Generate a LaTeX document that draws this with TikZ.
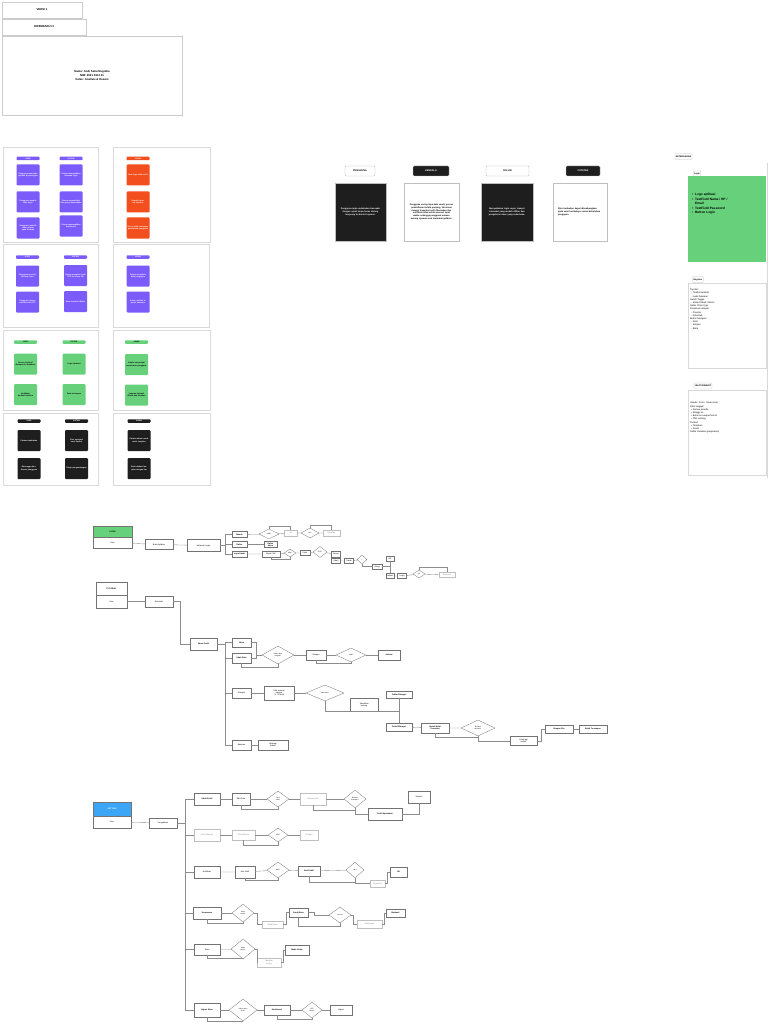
\documentclass[tikz,border=0pt]{standalone}
\usepackage{fontspec}
\setmainfont{Liberation Sans}
\usetikzlibrary{shapes.geometric}
\definecolor{ungu}{HTML}{7B5CFA}
\definecolor{merah}{HTML}{F24E1E}
\definecolor{hijau}{HTML}{66D17A}
\definecolor{hitam}{HTML}{1E1E1E}
\definecolor{biru}{HTML}{3DA5F5}
\newcommand{\fonttab}{\fontsize{1.8}{2}\selectfont\bfseries}
\newcommand{\fontcard}{\fontsize{1.9}{2.3}\selectfont\bfseries}
\newcommand{\fontflow}{\fontsize{2}{2.4}\selectfont}
\begin{document}
\begin{tikzpicture}[x=1pt, y=-1pt,
    wh/.style 2 args={minimum width=#1, minimum height=#2},
    panel/.style={draw=black!15, line width=0.4pt},
    topbox/.style={rectangle, draw=black!20, line width=0.4pt, inner sep=0.5pt, align=center, font=\fontsize{2.8}{3.6}\selectfont\bfseries},
    stickytab/.style={rectangle, rounded corners=0.8pt, inner sep=0pt, minimum width=23, minimum height=3.5, font=\fonttab, text=white},
    card/.style={rectangle, rounded corners=1pt, inner sep=0.6pt, minimum width=23, minimum height=21, text width=21, align=center, font=\fontcard, text=white},
    midtab/.style={rectangle, rounded corners=1pt, draw=black!25, line width=0.4pt, minimum height=10, inner sep=0pt, font=\fontsize{2.4}{3}\selectfont\bfseries},
    midcard/.style={rectangle, draw=black!25, line width=0.4pt, minimum height=58, inner sep=2pt, text width=44, align=center, font=\fontsize{2.2}{2.8}\selectfont\bfseries},
    sidetab/.style={rectangle, rounded corners=0.8pt, draw=black!25, line width=0.3pt, minimum height=6, inner sep=0.8pt, font=\fontsize{2.2}{2.6}\selectfont\bfseries},
    sidebox/.style={rectangle, draw=black!15, line width=0.4pt, minimum width=78, minimum height=85, inner sep=0pt},
    sidetext/.style={anchor=north west, align=left, inner sep=0pt, font=\fontsize{2.3}{3.2}\selectfont},
    fb/.style={rectangle, draw=black!55, line width=0.3pt, inner sep=0.3pt, align=center, font=\fontflow},
    fbb/.style={fb, font=\fontflow\bfseries},
    fl/.style={fb, draw=black!25, text=black!45},
    decide/.style={diamond, draw=black!55, line width=0.3pt, inner sep=0pt, align=center, font=\fontsize{1.6}{1.9}\selectfont},
    conn/.style={draw=black!45, line width=0.35pt}
  ]
    \fill[white] (0,0) rectangle (768,1024);
    \useasboundingbox (0,0) rectangle (768,1024);

    \node[topbox, wh={80}{16}] (versi) at (42,10) {VERSI 1};
    \node[topbox, wh={84}{16}] (update) at (44,27) {DIPERBARUI 3};
    \node[topbox, wh={180}{79}] (info) at (92,75.5) {Nama: Andi Setia Nugraha\\NIM: 2021 0412 01\\Kelas: Analisis \& Desain};

    \foreach \x/\y/\xx/\yy in {3/147/98/242, 113/147/210/242, 3/244/98/327, 113/244/209/327, 3/330/98/410, 113/330/210/410, 3/413/98/485, 113/413/210/485}
      \draw[panel] (\x,\y) rectangle (\xx,\yy);

    \foreach \nm/\px/\py/\txt in {ta1/28/158.5/USER, ta2/71/158.5/SISTEM, tc1/27.5/257/USER, tc2/75.5/257/SISTEM, td1/138/257/ADMIN}
      \node[stickytab, fill=ungu] (\nm) at (\px,\py) {\txt};
    \node[stickytab, fill=merah] (tb1) at (138,158.5) {ADMIN};
    \foreach \nm/\px/\py/\txt in {te1/25.5/342/USER, te2/74/342/SISTEM, tf1/136.5/342/ADMIN}
      \node[stickytab, fill=hijau, text=black] (\nm) at (\px,\py) {\txt};
    \foreach \nm/\px/\py/\txt in {tg1/29/421/USER, tg2/76.5/421/SISTEM, th1/139/421/ADMIN}
      \node[stickytab, fill=hitam] (\nm) at (\px,\py) {\txt};

    \foreach \nm/\px/\py/\txt in {ca1/28/175/{Pengguna membuka aplikasi di perangkat}, ca2/28/202/{Pengguna mengisi data login}, ca3/28/228/{Pengguna memilih menu utama pada beranda},
        ca4/71/175/{Sistem menampilkan halaman login}, ca5/71/202/{Sistem memvalidasi data yang dimasukkan}, ca6/71/226/{Sistem menampilkan dashboard},
        cc1/27.5/276/{Pengguna mendaftar akun baru}, cc2/27.5/302/{Pengguna memasukkan kode OTP},
        cc3/75.5/275.5/{Sistem mengirim kode OTP ke nomor HP}, cc4/75.5/301.5/{Akun berhasil dibuat},
        cd1/138/276/{Admin mengelola data pengguna}, cd2/138/302/{Admin melihat laporan transaksi}}
      \node[card, fill=ungu] (\nm) at (\px,\py) {\txt};
    \foreach \nm/\px/\py/\txt in {cb1/138/175/{Data login tidak valid}, cb2/138/202/{Koneksi internet terputus}, cb3/138/228/{Server tidak merespon permintaan pengguna}}
      \node[card, fill=merah] (\nm) at (\px,\py) {\txt};
    \foreach \nm/\px/\py/\txt in {ce1/25.5/364/{Proses berhasil disimpan ke database}, ce2/25.5/394.5/{Notifikasi berhasil terkirim},
        ce3/74/364/{Login berhasil}, ce4/74/394.5/{Data tersimpan},
        cf1/136.5/364.5/{Admin menyetujui permintaan pengguna}, cf2/136.5/395/{Laporan berhasil dibuat dan diunduh}}
      \node[card, fill=hijau, text=black] (\nm) at (\px,\py) {\txt};
    \foreach \nm/\px/\py/\txt in {cg1/29/440.5/{Catatan tambahan}, cg2/29/468.5/{Menunggu konfirmasi pengguna},
        cg3/76.5/440.5/{Fitur opsional versi berikut}, cg4/76.5/468.5/{Tahap pengembangan},
        ch1/139/440.5/{Catatan admin untuk revisi tampilan}, ch2/139/468.5/{Perlu diskusi lanjutan dengan tim}}
      \node[card, fill=hitam] (\nm) at (\px,\py) {\txt};

    \node[midtab, minimum width=30, fill=white] (mt1) at (360,171) {PENGGUNA};
    \node[midtab, minimum width=36, fill=hitam, text=white] (mt2) at (431,171) {KENDALA};
    \node[midtab, minimum width=43, fill=white] (mt3) at (507.5,171) {SOLUSI};
    \node[midtab, minimum width=34, fill=hitam, text=white] (mt4) at (583,171) {CATATAN};
    \node[midcard, minimum width=51, fill=hitam, text=white] (mc1) at (360.5,212) {Pengguna ingin melakukan transaksi dengan cepat tanpa harus datang langsung ke kantor layanan.};
    \node[midcard, minimum width=55, fill=white] (mc2) at (431.5,212) {Pengguna sering lupa kata sandi, proses pendaftaran terlalu panjang, informasi riwayat transaksi sulit ditemukan dan notifikasi tidak selalu muncul tepat waktu sehingga pengguna merasa kurang nyaman saat memakai aplikasi.};
    \node[midcard, minimum width=52, fill=hitam, text=white] (mc3) at (507,212) {Menyediakan login cepat, riwayat transaksi yang mudah difilter dan pengaturan akun yang sederhana.};
    \node[midcard, minimum width=54, fill=white, align=left] (mc4) at (580,212) {Fitur tambahan dapat dikembangkan pada versi berikutnya sesuai kebutuhan pengguna.};

    \node[sidetab] (ket) at (683.5,156.5) {KETERANGAN};
    \draw[panel] (767,163) -- (767,478);
    \node[sidetab] (st1) at (697,174) {Login};
    \node[sidebox, fill=hijau, draw=none] (sb1) at (727,219) {};
    \node[sidetext, font=\fontsize{3.2}{4.6}\selectfont\bfseries] (sx1) at (692,193) {\textbullet\ \ Logo aplikasi\\\textbullet\ \ TextField Nama / HP /\\\phantom{\textbullet\ \ }Email\\\textbullet\ \ TextField Password\\\textbullet\ \ Button Login};
    \node[sidetab] (st2) at (698,279.5) {Register};
    \node[sidebox] (sb2) at (727,325.5) {};
    \node[sidetext] (sx2) at (690,289) {Top Bar:\\\ \ - Tombol kembali\\\ \ - Judul halaman\\Switch Toggle\\\ \ - Mode Pribadi / Bisnis\\Radio Chips Type\\Dropdown wilayah:\\\ \ - Provinsi\\\ \ - Kota/Kab\\Button Navigasi:\\\ \ - Kirim\\\ \ - Simpan\\\ \ - Batal};
    \node[sidetab] (st3) at (703,386) {LIHAT RIWAYAT};
    \node[sidebox] (sb3) at (727,432.5) {};
    \node[sidetext] (sx3) at (690,402) {Header: Foto + Nama User\\Filter tanggal:\\\ \ \textbullet\ Semua periode\\\ \ \textbullet\ Minggu ini\\\ \ \textbullet\ Bulan ini sampai hari ini\\\ \ \textbullet\ Pilih rentang\\Tombol:\\\ \ \textbullet\ Terapkan\\\ \ \textbullet\ Reset\\Daftar transaksi (pagination)};

    % alur login
    \node[fbb, wh={39}{11}, fill=hijau] (hd1) at (112.5,531.5) {LOGIN};
    \node[fb, wh={39}{11}] (u1) at (112.5,542.5) {User};
    \node[fb, wh={28}{10}] (p1a) at (159,544.5) {Buka Aplikasi};
    \node[fb, wh={33}{12}] (p1b) at (203.5,545.5) {Halaman Login};
    \node[fbb, wh={15}{6}] (q1) at (239.5,534.5) {Masuk};
    \node[fbb, wh={15}{6}] (q2) at (239.5,544.5) {Daftar};
    \node[fbb, wh={15}{6}] (q3) at (239.5,554) {Lupa Sandi};
    \node[decide, wh={20}{10}] (k1) at (269,534) {Valid?};
    \node[fl, wh={13}{6}] (p1c) at (290.5,533) {Ya};
    \node[decide, wh={18}{10}] (k2) at (310,533) {OK?};
    \node[fl, wh={17}{6}] (p1d) at (331.5,533) {Beranda};
    \node[fbb, wh={13}{6}] (p1e) at (270.5,544.5) {Daftar\\Akun};
    \node[fb, wh={18}{6}] (p1f) at (271,554) {Email / HP};
    \node[decide, wh={12}{8}] (k3) at (290,553) {Ada?};
    \node[fb, wh={10}{5}] (p1g) at (305,553) {Kirim};
    \node[decide, wh={14}{11}] (k4) at (320,552) {OTP?};
    \node[fb, wh={9}{6}] (p1h) at (336,554) {Benar};
    \node[fb, wh={9}{5}] (p1i) at (336,561) {Ubah};
    \node[fb, wh={9}{5}] (p1j) at (349,561) {Sandi};
    \node[decide, wh={10}{9}] (k5) at (362,559.5) {?};
    \node[fb, wh={10}{5}] (p1k) at (377,566.5) {Ulang};
    \node[fb, wh={8}{5}] (p1l) at (390,559) {OK};
    \node[fb, wh={8}{5}] (p1m) at (390,576) {Sukses};
    \node[fb, wh={9}{5}] (p1n) at (402,576) {Login};
    \node[decide, wh={12}{8}] (k6) at (419,574) {OK};
    \node[fl, wh={16}{5}] (p1o) at (447,575) {Beranda};
    \draw[conn] (u1) -- (p1a);
    \draw[conn] (p1a) -- (p1b);
    \draw[conn] (p1b.east) -- ++(5,0) coordinate (j1);
    \foreach \q in {q1,q2,q3} \draw[conn] (j1) |- (\q.west);
    \draw[conn] (q1) -- (k1) -- (p1c) -- (k2) -- (p1d);
    \draw[conn] (k1.north) -- ++(0,-3) -| (p1c.north);
    \draw[conn] (k2.north) -- ++(0,-3) -| (p1d.north);
    \draw[conn] (q2) -- (p1e);
    \draw[conn] (q3) -- (p1f) -- (k3) -- (p1g) -- (k4) -- (p1h);
    \draw[conn] (p1f.south) -- ++(0,2) -| (k3.south);
    \draw[conn] (p1h) -- (p1i);
    \draw[conn] (p1i) -- (p1j) -- (k5);
    \draw[conn] (k5.south) |- (p1k.west);
    \draw[conn] (p1k.east) -| (p1l.south);
    \draw[conn] (p1l) -- (p1m);
    \draw[conn] (p1m) -- (p1n) -- (k6) -- (p1o);
    \draw[conn] (k6.north) -- ++(0,-3) -| (p1o.north);

    % alur riwayat
    \node[fbb, wh={31}{13}] (hd2) at (111.5,588.5) {TUTORIAL};
    \node[fb, wh={31}{13}] (u2) at (111.5,601.5) {User};
    \node[fb, wh={28}{11}] (p2a) at (159,601.5) {Beranda};
    \node[fbb, wh={27}{12}] (p2b) at (203.5,644) {Menu Profil};
    \node[fbb, wh={19}{9}] (b1) at (241.5,642.5) {Akun};
    \node[fbb, wh={19}{10}] (b2) at (241.5,658) {Ubah Data};
    \node[fb, wh={19}{10}] (b3) at (241.5,693) {Riwayat};
    \node[fb, wh={19}{10}] (b4) at (241.5,745) {Bantuan};
    \coordinate (j3) at (256,655);
    \node[decide, wh={32}{18}] (d2a) at (278,655) {Data sudah\\lengkap?};
    \node[fb, wh={20}{10}] (s1) at (316,655) {Simpan};
    \node[decide, wh={30}{14}] (d2b) at (351,655) {Valid?};
    \node[fbb, wh={22}{10}] (s2) at (389,655) {Selesai};
    \node[fb, wh={30}{14}] (n3a) at (279,693) {Pilih periode\\riwayat\\(1 - 30 hari)};
    \node[decide, wh={38}{16}] (d3) at (325,693) {Ada data?};
    \node[fb, wh={28}{13}] (n3b) at (364,705) {Tampilkan\\kosong};
    \node[fbb, wh={26}{7}] (n3c) at (399,694.5) {Daftar Riwayat};
    \node[fbb, wh={26}{8}] (n4a) at (399,727) {Detail Riwayat};
    \node[fbb, wh={28}{10}] (n4b) at (435,728) {Unduh Bukti\\Transaksi};
    \node[decide, wh={34}{16}] (d4) at (478,728) {Berhasil\\diunduh?};
    \node[fb, wh={27}{9}] (n4c) at (523.5,741) {Coba lagi\\unduh};
    \node[fbb, wh={28}{8}] (n4d) at (559,729) {Simpan File};
    \node[fbb, wh={28}{8}] (n4e) at (593,729) {Bukti Tersimpan};
    \node[fb, wh={30}{10}] (n5) at (273,745) {Hubungi\\Admin};
    \draw[conn] (u2) -- (p2a);
    \draw[conn] (p2a.east) -- ++(7,0) |- (p2b.west);
    \draw[conn] (p2b.east) -- ++(8,0) coordinate (j2);
    \foreach \b in {b1,b2,b3,b4} \draw[conn] (j2) |- (\b.west);
    \draw[conn] (b1.east) -| (j3);
    \draw[conn] (b2.east) -| (j3);
    \draw[conn] (j3) -- (d2a) -- (s1) -- (d2b) -- (s2);
    \draw[conn] (b2.south) -- ++(0,4) -| (d2a.south);
    \draw[conn] (s1.south) -- ++(0,3) -| (d2b.south);
    \draw[conn] (b3) -- (n3a) -- (d3);
    \draw[conn] (d3.south) |- (n3b.south -| n3c.south) -- (n3c.south);
    \draw[conn] (n3c) -- (n4a);
    \draw[conn] (n4a) -- (n4b) -- (d4);
    \draw[conn] (n4b.south) -- ++(0,4) -| (d4.south);
    \draw[conn] (d4.south) |- (n4c.west);
    \draw[conn] (n4c.east) -- ++(4,0) |- (n4d.west);
    \draw[conn] (n4d) -- (n4e);
    \draw[conn] (b4) -- (n5);

    % alur pengaturan
    \node[fbb, wh={38}{14}, fill=biru, text=white] (hd3) at (112,809) {SETTING};
    \node[fb, wh={38}{12}] (u3) at (112,822) {User};
    \node[fb, wh={28}{10}] (p3a) at (163,823) {Pengaturan};
    \node[fbb, wh={26}{12}] (r1) at (207,799) {Ubah Profil};
    \node[fl, wh={26}{12}] (r2) at (207,835) {Ubah Bahasa};
    \node[fb, wh={26}{12}] (r3) at (207,872) {Notifikasi};
    \node[fbb, wh={28}{12}] (r4) at (207,913) {Keamanan};
    \node[fb, wh={26}{11}] (r5) at (207,949.5) {Tema};
    \node[fbb, wh={26}{14}] (r6) at (207,1010) {Hapus Akun};
    \node[fb, wh={18}{12}] (a1) at (241,799) {Edit Data};
    \node[decide, wh={22}{16}] (dd1) at (278,799) {Data\\valid?};
    \node[fl, wh={26}{12}] (a2) at (313,799) {Simpan data};
    \node[decide, wh={22}{18}] (dd2) at (355,799) {Berhasil\\disimpan?};
    \node[fbb, wh={34}{12}] (a3) at (385,814) {Profil diperbarui};
    \node[fb, wh={22}{12}] (a4) at (419,797) {Selesai};
    \node[fl, wh={23}{10}] (c1) at (243.5,835) {Pilih Bahasa};
    \node[decide, wh={20}{14}] (dd3) at (278,835) {Pilih?};
    \node[fl, wh={18}{10}] (c2) at (309,835) {Simpan};
    \node[fb, wh={20}{12}] (e1) at (245,872) {Atur Notif};
    \node[decide, wh={22}{16}] (dd4) at (278,870) {Aktif?};
    \node[fbb, wh={22}{10}] (e2) at (309,871) {Notif Aktif};
    \node[decide, wh={18}{16}] (dd5) at (355,870) {Izin?};
    \node[fl, wh={15}{7}] (e3) at (377.5,883.5) {Minta Izin};
    \node[fbb, wh={17}{10}] (e4) at (398.5,872) {OK};
    \node[decide, wh={22}{18}] (dd6) at (243,913) {Ganti\\sandi?};
    \node[fl, wh={21}{7}] (f2) at (272.5,924.5) {Sandi lama};
    \node[fbb, wh={19}{9}] (f3) at (298.5,912.5) {Sandi Baru};
    \node[decide, wh={22}{16}] (dd7) at (340,915) {Cocok?};
    \node[fl, wh={25}{8}] (f4) at (369.5,924) {Konfirmasi};
    \node[fbb, wh={19}{8}] (f5) at (395.5,913) {Berhasil};
    \node[decide, wh={24}{20}] (dd8) at (243,949) {Mode\\gelap?};
    \node[fl, wh={24}{9}] (g2) at (269,962.5) {Tampilan\\terang};
    \node[fbb, wh={24}{10}] (g3) at (297,950) {Mode Gelap};
    \node[decide, wh={28}{22}] (dd9) at (243,1010) {Yakin hapus\\akun?};
    \node[fbb, wh={26}{10}] (h2b) at (277,1010) {Konfirmasi};
    \node[decide, wh={20}{16}] (dd10) at (312,1010) {OTP\\benar?};
    \node[fb, wh={22}{10}] (h3b) at (341,1010) {Hapus};
    \draw[conn] (u3) -- (p3a);
    \draw[conn] (p3a.east) -- ++(8,0) coordinate (j4);
    \foreach \r in {r1,r2,r3,r4,r5,r6} \draw[conn] (j4) |- (\r.west);
    \draw[conn] (r1) -- (a1) -- (dd1) -- (a2) -- (dd2);
    \draw[conn] (a1.south) -- ++(0,4) -| (dd1.south);
    \draw[conn] (a2.south) -- ++(0,5) -| (dd2.south);
    \draw[conn] (dd2.south) |- (a3.west);
    \draw[conn] (a3.east) -| (a4.south);
    \draw[conn] (r2) -- (c1) -- (dd3) -- (c2);
    \draw[conn] (c1.south) -- ++(0,5) -| (dd3.south);
    \draw[conn] (r3) -- (e1) -- (dd4) -- (e2) -- (dd5);
    \draw[conn] (e1.south) -- ++(0,2) -| (dd4.south);
    \draw[conn] (e2.south) -- ++(0,6) -| (dd5.south);
    \draw[conn] (dd5.south) |- (e3.west);
    \draw[conn] (e3.east) -- ++(2,0) |- (e4.west);
    \draw[conn] (r4) -- (dd6);
    \draw[conn] (r4.south) -- ++(0,4) -| (dd6.south);
    \draw[conn] (dd6.east) -- ++(3,0) |- (f2.west);
    \draw[conn] (f2.east) -- ++(3,0) |- (f3.west);
    \draw[conn] (f3.east) -- ++(6,0) |- (dd7.west);
    \draw[conn] (f3.south) -- ++(0,9) -| (dd7.south);
    \draw[conn] (dd7.east) -- ++(2,0) |- (f4.west);
    \draw[conn] (f4.east) -- ++(2,0) |- (f5.west);
    \draw[conn] (r5) -- (dd8);
    \draw[conn] (r5.south) -- ++(0,3) -| (dd8.south);
    \draw[conn] (dd8.east) -- ++(2,0) |- (g2.west);
    \draw[conn] (g2.east) -- ++(2,0) |- (g3.west);
    \draw[conn] (r6) -- (dd9) -- (h2b) -- (dd10) -- (h3b);
    \draw[conn] (r6.south) -- ++(0,4) -| (dd9.south);
    \draw[conn] (h2b.south) -- ++(0,4) -| (dd10.south);
  \end{tikzpicture}
\end{document}
